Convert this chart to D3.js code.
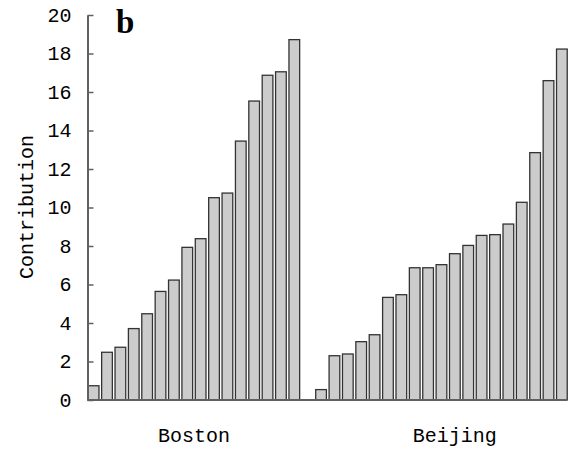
<!DOCTYPE html>
<html>
<head>
<meta charset="utf-8">
<script src="https://cdn.jsdelivr.net/npm/d3@7"></script>
<style>
  html, body { margin: 0; padding: 0; background: #fff; }
  svg { display: block; }
</style>
</head>
<body>
<svg id="chart" width="572" height="458"></svg>
<script>
// ---- data ----
const groups = ["Boston", "Beijing"];
const bostonValues = [0.74, 2.48, 2.74, 3.71, 4.48, 5.64, 6.23, 7.93, 8.38, 10.51, 10.75, 13.45, 15.53, 16.87, 17.05, 18.72];
const beijingValues = [0.54, 2.30, 2.39, 3.03, 3.39, 5.33, 5.47, 6.87, 6.87, 7.03, 7.60, 8.03, 8.55, 8.59, 9.14, 10.27, 12.85, 16.59, 18.23];
const yTicks = [0, 2, 4, 6, 8, 10, 12, 14, 16, 18, 20];
const yLabel = "Contribution";
const panelLabel = "b";

// ---- build slots ----
const bars = [];
bostonValues.forEach((v, i) => bars.push({ key: "Boston-" + (i + 1), group: "Boston", value: v }));
const spacerKey = "gap";
beijingValues.forEach((v, i) => bars.push({ key: "Beijing-" + (i + 1), group: "Beijing", value: v }));
const domainKeys = [];
bostonValues.forEach((v, i) => domainKeys.push("Boston-" + (i + 1)));
domainKeys.push(spacerKey);
beijingValues.forEach((v, i) => domainKeys.push("Beijing-" + (i + 1)));

const svg = d3.select("#chart");
const axisX0 = 87.5, axisX1 = 567;
const x = d3.scaleBand().domain(domainKeys).range([88, 567.5]).paddingInner(0.2).paddingOuter(0.02);
const y = d3.scaleLinear().domain([0, 20]).range([400, 15]);

const axisColor = "#606060";
const fontMono = "'Liberation Mono', 'DejaVu Sans Mono', monospace";

// bars
svg.append("g").selectAll("rect").data(bars).join("rect")
  .attr("x", d => x(d.key))
  .attr("y", d => y(d.value))
  .attr("width", x.bandwidth())
  .attr("height", d => y(0) - y(d.value))
  .attr("fill", "#cccccc")
  .attr("stroke", "#333333")
  .attr("stroke-width", 1.3);

// y axis
const yAxis = d3.axisLeft(y).tickValues(yTicks).tickSizeInner(-6).tickSizeOuter(0).tickPadding(16);
const gy = svg.append("g").attr("transform", `translate(${axisX0},0)`).call(yAxis);
gy.select(".domain").attr("stroke", axisColor).attr("stroke-width", 2);
gy.selectAll(".tick line").attr("stroke", axisColor).attr("stroke-width", 1.5);
gy.selectAll(".tick text")
  .attr("font-family", fontMono)
  .attr("font-size", 20)
  .attr("fill", "#000");

// x axis baseline
svg.append("line")
  .attr("x1", axisX0).attr("x2", axisX1)
  .attr("y1", y(0)).attr("y2", y(0))
  .attr("stroke", axisColor).attr("stroke-width", 2);

// group labels
const groupCenters = {
  "Boston": (x("Boston-1") + x("Boston-" + bostonValues.length) + x.bandwidth()) / 2,
  "Beijing": x("Beijing-11") + x.bandwidth() / 2
};
svg.append("g").selectAll("text").data(groups).join("text")
  .attr("x", d => groupCenters[d])
  .attr("y", 442)
  .attr("text-anchor", "middle")
  .attr("font-family", fontMono)
  .attr("font-size", 20)
  .attr("fill", "#000")
  .text(d => d);

// y label
svg.append("text")
  .attr("transform", "translate(33,207) rotate(-90)")
  .attr("text-anchor", "middle")
  .attr("font-family", fontMono)
  .attr("font-size", 20)
  .attr("fill", "#000")
  .text(yLabel);

// panel label
svg.append("text")
  .attr("x", 116)
  .attr("y", 33)
  .attr("font-family", "'Liberation Serif', 'Times New Roman', serif")
  .attr("font-weight", "bold")
  .attr("font-size", 33)
  .attr("fill", "#000")
  .text(panelLabel);
</script>
</body>
</html>
